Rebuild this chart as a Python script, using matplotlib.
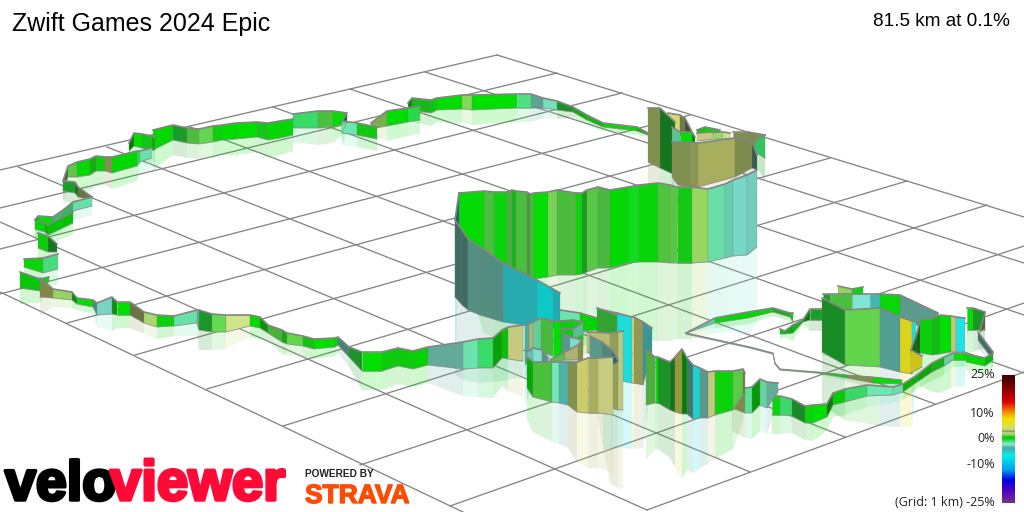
import numpy as np
import matplotlib
matplotlib.use("Agg")
import matplotlib.pyplot as plt
import matplotlib.patheffects as pe
from matplotlib.colors import LinearSegmentedColormap, to_rgb

title = "Zwift Games 2024 Epic"
summary = "81.5 km at 0.1%"
scale_ticks = [25, 10, 0, -10]
scale_labels = ["25%", "10%", "0%", "-10%"]
grid_label = "(Grid: 1 km) -25%"

grid_a = [(497, 55, 1024, 217), (425, 72, 1024, 263), (350, 89, 1024, 315),
          (273, 107, 1024, 373), (190, 127, 935, 404), (107, 147, 845, 437),
          (18, 167, 750, 472), (0, 222, 647, 510), (0, 292, 463, 512)]
grid_b = [(497, 55, 0, 170), (557, 73, 0, 208), (622, 93, 0, 249), (690, 115, 0, 294),
          (758, 136, 67, 323), (830, 158, 135, 355), (907, 181, 207, 389),
          (987, 205, 283, 426), (1024, 246, 360, 465), (1024, 303, 450, 506),
          (1024, 372, 647, 510)]

# grade colours, same as the scale bar
grade_stops = [(-25, "#7b2f8f"), (-20, "#4a00c8"), (-16, "#0000e0"), (-12, "#00a0f0"),
               (-7, "#00e8e8"), (-6, "#20e4e4"), (-5, "#20c8d0"), (-4, "#3ab8b8"),
               (-3, "#64ac9c"), (-2.5, "#80e6d4"), (-1.5, "#6ee8b0"), (-0.7, "#38dd68"),
               (0, "#00e000"), (0.5, "#14c814"), (0.8, "#1c9f2a"), (1, "#4cc03e"),
               (1.5, "#66da50"), (2, "#98d862"), (2.5, "#cfe688"), (2.8, "#80904f"),
               (3.2, "#a8b060"), (3.6, "#c8cc80"), (4.5, "#d8dc70"), (6, "#e8e020"),
               (8, "#f0e000"), (11, "#f08000"), (14.5, "#e00000"), (20, "#800000"),
               (25, "#3d0000")]

# route walls: x, top of wall, foot of wall, grade of each stretch
n1_x = [63, 68, 77, 90, 96, 105, 112, 137, 140, 152]
n1_top = [181, 166, 162, 159, 156, 157, 157, 151, 151, 148]
n1_base = [191, 177, 177, 175, 171, 171, 173, 166, 162, 158]
n1_grade = [2, 1.5, 0, 0.5, 0.3, 2.8, 0, -0.5, -1.5]

n2_x = [63, 75, 78, 92]
n2_top = [181, 182, 187, 197]
n2_base = [191, 193, 197, 200]
n2_grade = [0.8, 0.5, 2.8]

n3_x = [35, 38, 53, 63, 73, 92]
n3_top = [220, 216, 217, 210, 202, 197]
n3_base = [229, 226, 226, 220, 211, 206]
n3_grade = [0, 0, -1, -1, -1.5]

n4_x = [35, 45, 48, 73]
n4_top = [220, 223, 225, 212]
n4_base = [229, 232, 235, 223]
n4_grade = [0, 0, 0]

n5_x = [38, 48, 57]
n5_top = [233, 236, 244]
n5_base = [248, 252, 252]
n5_grade = [0.2, 0.8]

n6_x = [24, 43, 58]
n6_top = [259, 258, 254]
n6_base = [267, 273, 269]
n6_grade = [0.2, -1]

n7_x = [20, 40, 49]
n7_top = [272, 279, 277]
n7_base = [288, 291, 281]
n7_grade = [0.3, 0]

n8_x = [129, 134, 142, 152, 155]
n8_top = [143, 133, 134, 136, 138]
n8_base = [151, 146, 148, 150, 150]
n8_grade = [0, 0, 0.5, 0.5]

n9_x = [153, 173, 187, 199, 213, 222, 236, 257, 268, 280, 293]
n9_top = [130, 125, 128, 129, 126, 125, 123, 122, 123, 121, 119]
n9_base = [150, 140, 143, 144, 142, 140, 139, 137, 140, 138, 135]
n9_grade = [0, 0.8, 1, 1.5, 0.3, 0, 0, 0.5, 0.1, 0.1]

n10_x = [293, 318, 333, 347, 342, 357, 377]
n10_top = [114, 111, 111, 113, 121, 123, 127]
n10_base = [128, 128, 127, 122, 133, 135, 139]
n10_grade = [-0.7, 1, 0, 0, -1.5, 0.4]

n11_x = [371, 387, 408, 420]
n11_top = [123, 111, 108, 106]
n11_base = [129, 126, 122, 120]
n11_grade = [2, 0, -0.5]

n12_x = [408, 412, 431, 437, 462, 472, 517, 531, 543, 557, 573, 587, 603, 637, 648]
n12_top = [103, 98, 100, 98, 95, 95, 94, 94, 98, 101, 107, 115, 123, 127, 133]
n12_base = [106, 110, 113, 110, 109, 110, 108, 108, 108, 110, 112, 120, 127, 131, 135]
n12_grade = [0.5, 0.6, 0.2, 0, 1.8, 0, -1, -3, -2, 0.8, 0.5, 0.3, 0, 0.3]

bc1_x = [648, 660, 675]
bc1_top = [108, 108, 122]
bc1_base = [162, 168, 175]
bc1_grade = [2.8, 0.8]

bc2_x = [668, 680, 685, 692]
bc2_top = [113, 115, 118, 132]
bc2_base = [130, 135, 140, 140]
bc2_grade = [4.5, 2.8, 2.8]

bc3_x = [697, 705, 720]
bc3_top = [130, 127, 130]
bc3_base = [135, 135, 135]
bc3_grade = [0, 0]

bc4_x = [672, 680, 692, 695]
bc4_top = [127, 132, 132, 137]
bc4_base = [142, 142, 142, 142]
bc4_grade = [-1.5, 0, 0]

bc5_x = [697, 713, 723, 730]
bc5_top = [133, 132, 132, 133]
bc5_base = [141, 139, 139, 138]
bc5_grade = [3.6, 2, 2.5]

bc6_x = [733, 748, 765]
bc6_top = [132, 132, 135]
bc6_base = [142, 142, 158]
bc6_grade = [2.8, 2.8]

bc8_x = [755, 765]
bc8_top = [140, 135]
bc8_base = [152, 158]
bc8_grade = [-0.7]

bc7_x = [672, 678, 690, 698, 735, 752, 757]
bc7_top = [142, 142, 142, 143, 138, 142, 155]
bc7_base = [177, 185, 187, 187, 177, 168, 170]
bc7_grade = [2.8, 2.8, 2.9, 3.2, 2.8, -3]

big_x = [459, 484, 494, 507, 512, 516, 527, 530, 534, 548, 557, 576, 582, 587, 598, 610,
         628, 639, 658, 670, 677, 692, 708, 725, 733, 747, 757]
big_top = [193, 191, 192, 192, 190, 191, 192, 194, 193, 192, 190, 193, 193, 190, 187, 190,
           187, 185, 183, 185, 187, 187, 189, 184, 180, 175, 170]
big_base = [225, 262, 265, 272, 275, 276, 277, 278, 279, 277, 275, 275, 274, 272, 268, 268,
            263, 262, 262, 263, 263, 263, 262, 258, 256, 255, 247]
big_grade = [0.1, 1, 0.3, 1, 0.6, 1, 1, 1, 0, 1.7, 1, 0.3, 0.6, 1.3, 1, 0.1,
             -0.2, 0.2, 1.1, 1.3, 0.5, 2, -1.5, -2, -2.5, -2.5]

hairpin_x = [459, 455]
hairpin_top = [193, 220]
hairpin_base = [225, 297]
hairpin_grade = [-6]

teal_x = [455, 462, 468, 480, 503, 537, 553, 560]
teal_top = [220, 230, 239, 247, 263, 280, 289, 293]
teal_base = [297, 305, 310, 315, 322, 327, 328, 328]
teal_grade = [-3, -3, -3, -3, -4.5, -6.5, -5]

sw_x = [40, 53, 72, 77, 93, 97, 112, 117, 130, 144, 157, 174, 197, 199, 212, 226, 250, 260,
        268, 282, 287, 303, 314, 335, 338, 349, 362, 382, 398, 413, 428, 463, 478, 493, 502,
        508, 523]
sw_top = [278, 289, 292, 298, 300, 303, 297, 302, 302, 312, 315, 316, 310, 310, 314, 315, 315,
          317, 325, 330, 333, 336, 339, 338, 337, 347, 352, 352, 348, 351, 347, 342, 339, 338,
          330, 327, 325]
sw_base = [297, 298, 300, 304, 307, 315, 314, 315, 315, 323, 327, 326, 323, 330, 332, 332, 326,
           328, 333, 342, 344, 346, 349, 347, 345, 357, 371, 371, 366, 369, 365, 369, 368, 368,
           358, 359, 361]
sw_grade = [3.2, 2, 0.5, 0, -3, -2.5, 0.5, 0, 2.8, 2.2, 0.3, -1.5, -3, 0.8, 1.5, 2.5, 0, 0.5,
            1, 0.5, 1.5, 0.5, 0, 0, -3, 0.8, 0, 0.3, 0.3, 0.1, -3, -1.5, -0.7, 0.2, 0.2, 3.6]

mid_x = [560, 580, 597]
mid_top = [310, 313, 318]
mid_base = [330, 330, 330]
mid_grade = [-1.5, 0]

fc1_x = [525, 529, 533, 541, 553, 560, 573, 583]
fc1_top = [325, 324, 322, 318, 321, 321, 320, 322]
fc1_base = [365, 360, 352, 352, 356, 356, 345, 345]
fc1_grade = [-3.5, 3.6, -1.5, 1, 0, 0.5, 0]

fc2_x = [560, 573, 583]
fc2_top = [329, 329, 322]
fc2_base = [342, 340, 334]
fc2_grade = [0.5, -1.5]

fc3_x = [562, 570, 582]
fc3_top = [333, 337, 340]
fc3_base = [358, 352, 345]
fc3_grade = [-3, -2.5]

fc5_x = [603, 617, 632]
fc5_top = [310, 313, 317]
fc5_base = [380, 380, 383]
fc5_grade = [-6, -6]

fc4_x = [597, 603, 617]
fc4_top = [308, 310, 315]
fc4_base = [332, 340, 332]
fc4_grade = [0.9, 0.9]

fc6_x = [632, 634, 643, 652]
fc6_top = [317, 317, 322, 328]
fc6_base = [383, 383, 385, 352]
fc6_grade = [5, 3.2, -3.8]

fc8_x = [587, 590, 610, 618, 623]
fc8_top = [332, 332, 333, 332, 331]
fc8_base = [352, 354, 408, 410, 410]
fc8_grade = [3.4, 3.4, 3, 3.6]

fc9_x = [590, 602, 612, 618]
fc9_top = [336, 342, 350, 360]
fc9_base = [358, 364, 365, 362]
fc9_grade = [-3, -3, -3.5]

fc10_x = [527, 533, 542, 548]
fc10_top = [352, 348, 350, 358]
fc10_base = [362, 362, 362, 362]
fc10_grade = [-2.5, -2.5, -2.5]

fc11_x = [550, 565, 578, 583]
fc11_top = [360, 352, 345, 338]
fc11_base = [362, 360, 360, 362]
fc11_grade = [1.5, 3.6, 4.5]

fc12_x = [527, 533]
fc12_top = [357, 362]
fc12_base = [388, 397]
fc12_grade = [0]

fc13_x = [533, 552, 559, 568, 577, 588, 598, 613]
fc13_top = [362, 362, 362, 362, 362, 358, 358, 357]
fc13_base = [397, 402, 403, 405, 412, 413, 413, 415]
fc13_grade = [1, -1.7, -3.5, 2.8, 4.5, 3.2, 3.6]

c3_x = [686, 750, 773, 775, 780, 817, 847, 873, 902]
c3_top = [333, 347, 353, 363, 369, 372, 375, 377, 380]
c3_base = [334, 348, 354, 364, 370, 373, 378, 383, 384]
c3_grade = [-3, -3, -3, 1, 1, 0.5, 2.8, 0]

c2_x = [686, 715, 748, 773, 790, 793]
c2_top = [333, 318, 312, 308, 313, 313]
c2_base = [333, 323, 318, 312, 317, 322]
c2_grade = [-2, 0, 0.1, 0.6, 0.5]

c1_x = [780, 785, 793, 803, 810, 822]
c1_top = [329, 331, 325, 320, 309, 309]
c1_base = [334, 334, 333, 322, 320, 320]
c1_grade = [0.3, 0, 0.2, 0.2, 0.8]

bump_x = [838, 852, 863]
bump_top = [286, 289, 287]
bump_base = [296, 296, 296]
bump_grade = [2, 0]

oct_back_x = [823, 830, 852, 870, 880, 900, 938]
oct_back_top = [294, 294, 294, 294, 294, 295, 313]
oct_back_base = [325, 325, 325, 325, 325, 325, 325]
oct_back_grade = [0.8, 1, -2.5, -3.8, 0.2, -3]

oct_x = [822, 845, 880, 900, 912, 916]
oct_top = [298, 310, 308, 317, 321, 322]
oct_base = [352, 365, 367, 372, 374, 348]
oct_grade = [0.8, 1.4, -3.2, 6, -6]

e9_x = [911, 917, 920]
e9_top = [350, 333, 320]
e9_base = [355, 355, 353]
e9_grade = [0.2, 0.2]

e8_x = [920, 932, 940, 951, 956, 965]
e8_top = [320, 318, 315, 316, 317, 318]
e8_base = [353, 355, 354, 352, 352, 352]
e8_grade = [0.3, 0.5, 0, 3.6, -6]

yellow_x = [911, 922]
yellow_top = [350, 356]
yellow_base = [373, 367]
yellow_grade = [6]

e7_x = [967, 973, 985]
e7_top = [308, 308, 312]
e7_base = [330, 330, 330]
e7_grade = [0, 0.8]

e6_x = [978, 993]
e6_top = [332, 352]
e6_base = [340, 360]
e6_grade = [-3]

e10_x = [980, 985]
e10_top = [330, 313]
e10_base = [332, 328]
e10_grade = [3.4]

e5_x = [966, 985, 993]
e5_top = [354, 358, 353]
e5_base = [362, 366, 360]
e5_grade = [0, 0]

e4_x = [944, 953, 966]
e4_top = [357, 353, 353]
e4_base = [366, 360, 360]
e4_grade = [-1.5, 0]

e3_x = [917, 932, 944]
e3_top = [375, 363, 357]
e3_base = [382, 372, 366]
e3_grade = [0.2, 0.5]

e2b_x = [772, 780, 792, 805, 813, 827, 833, 845, 867, 893, 903, 917]
e2b_top = [396, 396, 399, 406, 405, 404, 393, 389, 385, 387, 384, 375]
e2b_base = [415, 415, 416, 423, 423, 417, 405, 402, 396, 395, 392, 382]
e2b_grade = [0.2, -0.8, 0.8, 0.2, 0, 0.1, 0.2, -0.7, -1.5, -1.6, 0.2]

e2a_x = [732, 745, 752, 760, 767, 778]
e2a_top = [385, 388, 387, 379, 382, 383]
e2a_base = [408, 413, 413, 405, 408, 392]
e2a_grade = [2.8, -1.2, 0.2, -1.5, -3]

e1_x = [646, 655, 658, 670, 675, 682, 687, 693, 700, 708, 715, 733, 743, 745]
e1_top = [350, 357, 357, 362, 357, 349, 358, 365, 368, 372, 371, 371, 369, 373]
e1_base = [405, 403, 403, 410, 412, 414, 414, 419, 418, 418, 415, 410, 395, 393]
e1_grade = [1.5, 0, 0.8, 0.8, 5, 0.1, -3.2, -6, -3, 3.6, 0.3, 1.3, 4]

# back to front
sections = [
    (n12_x, n12_top, n12_base, n12_grade), (n11_x, n11_top, n11_base, n11_grade),
    (n10_x, n10_top, n10_base, n10_grade), (n9_x, n9_top, n9_base, n9_grade),
    (n8_x, n8_top, n8_base, n8_grade), (n1_x, n1_top, n1_base, n1_grade),
    (n2_x, n2_top, n2_base, n2_grade), (n3_x, n3_top, n3_base, n3_grade),
    (n4_x, n4_top, n4_base, n4_grade), (n5_x, n5_top, n5_base, n5_grade),
    (n6_x, n6_top, n6_base, n6_grade), (n7_x, n7_top, n7_base, n7_grade),
    (bc3_x, bc3_top, bc3_base, bc3_grade), (bc2_x, bc2_top, bc2_base, bc2_grade),
    (bc1_x, bc1_top, bc1_base, bc1_grade), (bc4_x, bc4_top, bc4_base, bc4_grade),
    (bc5_x, bc5_top, bc5_base, bc5_grade), (bc6_x, bc6_top, bc6_base, bc6_grade),
    (bc8_x, bc8_top, bc8_base, bc8_grade), (bc7_x, bc7_top, bc7_base, bc7_grade),
    (big_x, big_top, big_base, big_grade), (hairpin_x, hairpin_top, hairpin_base, hairpin_grade),
    (teal_x, teal_top, teal_base, teal_grade), (sw_x, sw_top, sw_base, sw_grade),
    (mid_x, mid_top, mid_base, mid_grade), (fc1_x, fc1_top, fc1_base, fc1_grade),
    (fc2_x, fc2_top, fc2_base, fc2_grade), (fc3_x, fc3_top, fc3_base, fc3_grade),
    (fc5_x, fc5_top, fc5_base, fc5_grade), (fc4_x, fc4_top, fc4_base, fc4_grade),
    (fc6_x, fc6_top, fc6_base, fc6_grade), (fc8_x, fc8_top, fc8_base, fc8_grade),
    (fc9_x, fc9_top, fc9_base, fc9_grade), (fc10_x, fc10_top, fc10_base, fc10_grade),
    (fc11_x, fc11_top, fc11_base, fc11_grade), (fc12_x, fc12_top, fc12_base, fc12_grade),
    (fc13_x, fc13_top, fc13_base, fc13_grade), (c3_x, c3_top, c3_base, c3_grade),
    (c2_x, c2_top, c2_base, c2_grade), (c1_x, c1_top, c1_base, c1_grade),
    (bump_x, bump_top, bump_base, bump_grade), (oct_back_x, oct_back_top, oct_back_base, oct_back_grade),
    (oct_x, oct_top, oct_base, oct_grade), (e9_x, e9_top, e9_base, e9_grade),
    (e8_x, e8_top, e8_base, e8_grade), (yellow_x, yellow_top, yellow_base, yellow_grade),
    (e7_x, e7_top, e7_base, e7_grade), (e6_x, e6_top, e6_base, e6_grade),
    (e10_x, e10_top, e10_base, e10_grade), (e5_x, e5_top, e5_base, e5_grade),
    (e4_x, e4_top, e4_base, e4_grade), (e3_x, e3_top, e3_base, e3_grade),
    (e2b_x, e2b_top, e2b_base, e2b_grade), (e2a_x, e2a_top, e2a_base, e2a_grade),
    (e1_x, e1_top, e1_base, e1_grade),
]

LINE = "#858585"
cmap = LinearSegmentedColormap.from_list(
    "grade", [((g + 25) / 50, to_rgb(c)) for g, c in grade_stops], N=4096)


def grade_colour(g):
    return np.array(cmap((g + 25) / 50)[:3])


fig = plt.figure(figsize=(10.24, 5.12), dpi=100)
ax = fig.add_axes([0, 0, 1, 1])

for x0, y0, x1, y1 in grid_a + grid_b:
    ax.plot([x0, x1], [y0, y1], color=LINE, lw=0.95, zorder=1)

# pale mirror image under every wall
for x, top, base, grade in sections:
    for i, g in enumerate(grade):
        h0 = base[i] - top[i]
        h1 = base[i + 1] - top[i + 1]
        ax.fill([x[i], x[i + 1], x[i + 1], x[i]],
                [base[i], base[i + 1], base[i + 1] + h1, base[i] + h0],
                color=tuple(grade_colour(g)) + (0.19,), lw=0, zorder=2)

z = 3
for x, top, base, grade in sections:
    for i, g in enumerate(grade):
        dx = x[i + 1] - x[i]
        dy = top[i + 1] - top[i]
        steep = abs(dy) / max(np.hypot(dx, dy), 1)
        shade = 1 - 0.55 * steep ** 2
        ax.fill([x[i], x[i + 1], x[i + 1], x[i]],
                [top[i], top[i + 1], base[i + 1], base[i]],
                facecolor=tuple(grade_colour(g) * shade),
                edgecolor=(0.5, 0.5, 0.5, 0.35), lw=0.5, zorder=z)
    # the thin flat stretch gets a thin outline
    thin = np.mean(np.array(base) - np.array(top)) < 3
    ax.plot(x, base, color=LINE, lw=0.6, alpha=0.7, zorder=z + 0.1)
    ax.plot(x, top, color=LINE, lw=0.7 if thin else 1.2, solid_joinstyle="round", zorder=z + 0.2)
    z += 1

# scale bar
bar = np.linspace(25, -25, 256)[:, None]
ax.imshow(bar, extent=(1002, 1015, 503, 375), cmap=cmap, vmin=-25, vmax=25,
          aspect="auto", zorder=z)
for tick, label in zip(scale_ticks, scale_labels):
    ax.text(995, 439 - tick * 2.56, label, ha="right", va="center", fontsize=9,
            family="Open Sans", color="#222222", zorder=z)
ax.text(995, 502, grid_label, ha="right", va="center", fontsize=9,
        family="Open Sans", color="#222222", zorder=z)

ax.text(12, 24, title, ha="left", va="center", fontsize=18, family="Liberation Sans",
        color="black", zorder=z)
ax.text(1010, 22, summary, ha="right", va="center", fontsize=13.7, family="Liberation Sans",
        color="black", zorder=z)

# logos
ax.text(5, 500, "velo", ha="left", va="baseline", fontsize=40, fontweight="bold",
        family="Liberation Sans", color="black", zorder=z,
        path_effects=[pe.withStroke(linewidth=2.5, foreground="black")])
ax.text(110, 500, "viewer", ha="left", va="baseline", fontsize=40.5, fontweight="bold",
        family="Liberation Sans", color="#ff0a37", zorder=z,
        path_effects=[pe.withStroke(linewidth=2.5, foreground="#ff0a37")])
ax.text(305, 477, "POWERED BY", ha="left", va="baseline", fontsize=7.3, fontweight="bold",
        family="Liberation Sans", color="#222222", zorder=z)
ax.text(305, 503, "STRAVA", ha="left", va="baseline", fontsize=19, fontweight="bold",
        family="Liberation Sans", color="#fc4c02", zorder=z,
        path_effects=[pe.withStroke(linewidth=1, foreground="#fc4c02")])

ax.set_xlim(0, 1024)
ax.set_ylim(512, 0)
ax.axis("off")
fig.savefig("out.png", dpi=100, facecolor="white")
